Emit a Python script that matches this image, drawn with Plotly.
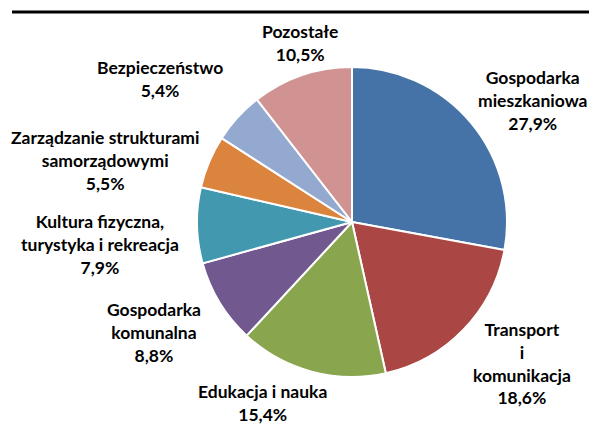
import plotly.graph_objects as go

W, H = 589, 425

categories = [
    "Gospodarka mieszkaniowa",
    "Transport i komunikacja",
    "Edukacja i nauka",
    "Gospodarka komunalna",
    "Kultura fizyczna, turystyka i rekreacja",
    "Zarządzanie strukturami samorządowymi",
    "Bezpieczeństwo",
    "Pozostałe",
]
values = [27.9, 18.6, 15.4, 8.8, 7.9, 5.5, 5.4, 10.5]
label_lines = [
    "Gospodarka<br>mieszkaniowa",
    "Transport<br>i<br>komunikacja",
    "Edukacja i nauka",
    "Gospodarka<br>komunalna",
    "Kultura fizyczna,<br>turystyka i rekreacja",
    "Zarządzanie strukturami<br>samorządowymi",
    "Bezpieczeństwo",
    "Pozostałe",
]
colors = ["#4572A7", "#AA4643", "#89A54E", "#71588F",
          "#4198AF", "#DB843D", "#93A9CF", "#D19392"]

# label centres in pixels (layout)
label_pos = [(532, 100), (522, 363.5), (262, 403), (154, 332.5),
             (100, 244.5), (105, 160), (160, 78.5), (300, 43.5)]

cx, cy, r = 352, 222, 155

fig = go.Figure(go.Pie(
    labels=categories,
    values=values,
    sort=False,
    direction="clockwise",
    rotation=0,
    marker=dict(colors=colors, line=dict(color="white", width=2)),
    textinfo="none",
    hoverinfo="label+percent",
    showlegend=False,
    domain=dict(x=[(cx - r) / W, (cx + r) / W],
                y=[(H - cy - r) / H, (H - cy + r) / H]),
))

for lab, v, (px, py) in zip(label_lines, values, label_pos):
    txt = f"{lab}<br>{v:.1f}%".replace(".", ",")
    fig.add_annotation(
        x=px / W, y=1 - py / H, xref="paper", yref="paper",
        text=f"<b>{txt}</b>", showarrow=False,
        xanchor="center", yanchor="middle", align="center",
        font=dict(family="Lato", size=17.5, color="#000000"),
    )

fig.add_shape(type="line", xref="paper", yref="paper",
              x0=12 / W, x1=1.0, y0=1 - 12 / H, y1=1 - 12 / H,
              line=dict(color="black", width=3))

fig.update_layout(
    width=W, height=H,
    margin=dict(l=0, r=0, t=0, b=0),
    paper_bgcolor="white", plot_bgcolor="white",
)

fig.write_html("out.html",
               config={"displayModeBar": False},
               post_script="document.body.style.margin='0';document.body.style.overflow='hidden';")
